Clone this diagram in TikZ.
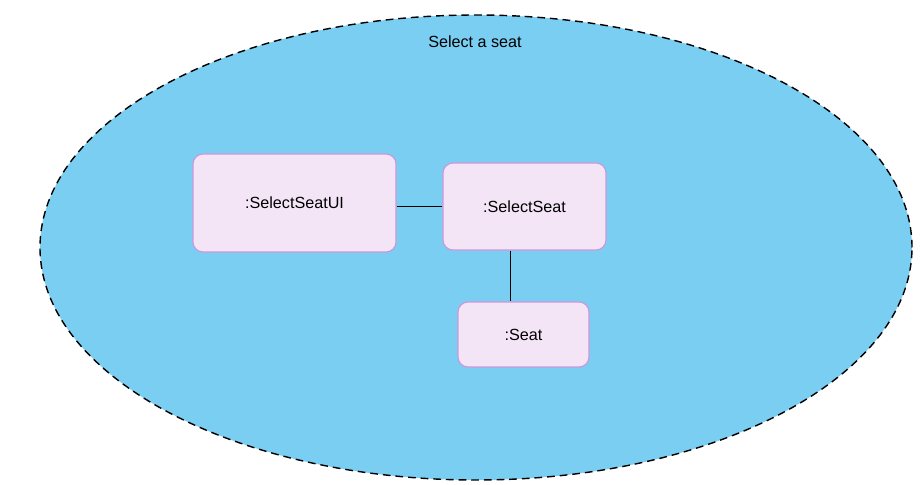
\documentclass[tikz,border=0pt]{standalone}
\usepackage{fontspec}
\setmainfont{Liberation Sans}
\usetikzlibrary{positioning}

\definecolor{scopeblue}{RGB}{122,206,242}
\definecolor{objfill}{RGB}{243,229,246}
\definecolor{objline}{RGB}{204,150,218}

\tikzset{
  usecase/.style={draw=black,fill=scopeblue,line width=1pt,dash pattern=on 5.5pt off 3.5pt},
  objbox/.style={rectangle,rounded corners=0.25cm,draw=objline,fill=objfill,line width=0.8pt,font=\fontsize{11.5}{13}\selectfont},
  link/.style={draw=black,line width=0.8pt}
}

\begin{document}
\begin{tikzpicture}[x=0.025cm,y=-0.025cm]
\useasboundingbox (0,0) rectangle (922,485);
\draw[usecase] (476,247.5) ellipse [x radius=436*0.025cm, y radius=232.5*0.025cm];
\node[font=\fontsize{11.5}{13}\selectfont] (title) at (475,42) {Select a seat};

\node[objbox,minimum width=5.075cm,minimum height=2.45cm] (ui) at (294.5,203) {:SelectSeatUI};
\node[objbox,minimum width=4.075cm,minimum height=2.175cm] (ss) at (524.5,206.5) {:SelectSeat};
\node[objbox,minimum width=3.275cm,minimum height=1.625cm] (seat) at (523.5,334.5) {:Seat};

\draw[link] (ss.west) -- (ss.west -| ui.east);
\coordinate (down) at ([xshift=-0.34cm]ss.south);
\draw[link] (down) -- (down |- seat.north);

\end{tikzpicture}
\end{document}
